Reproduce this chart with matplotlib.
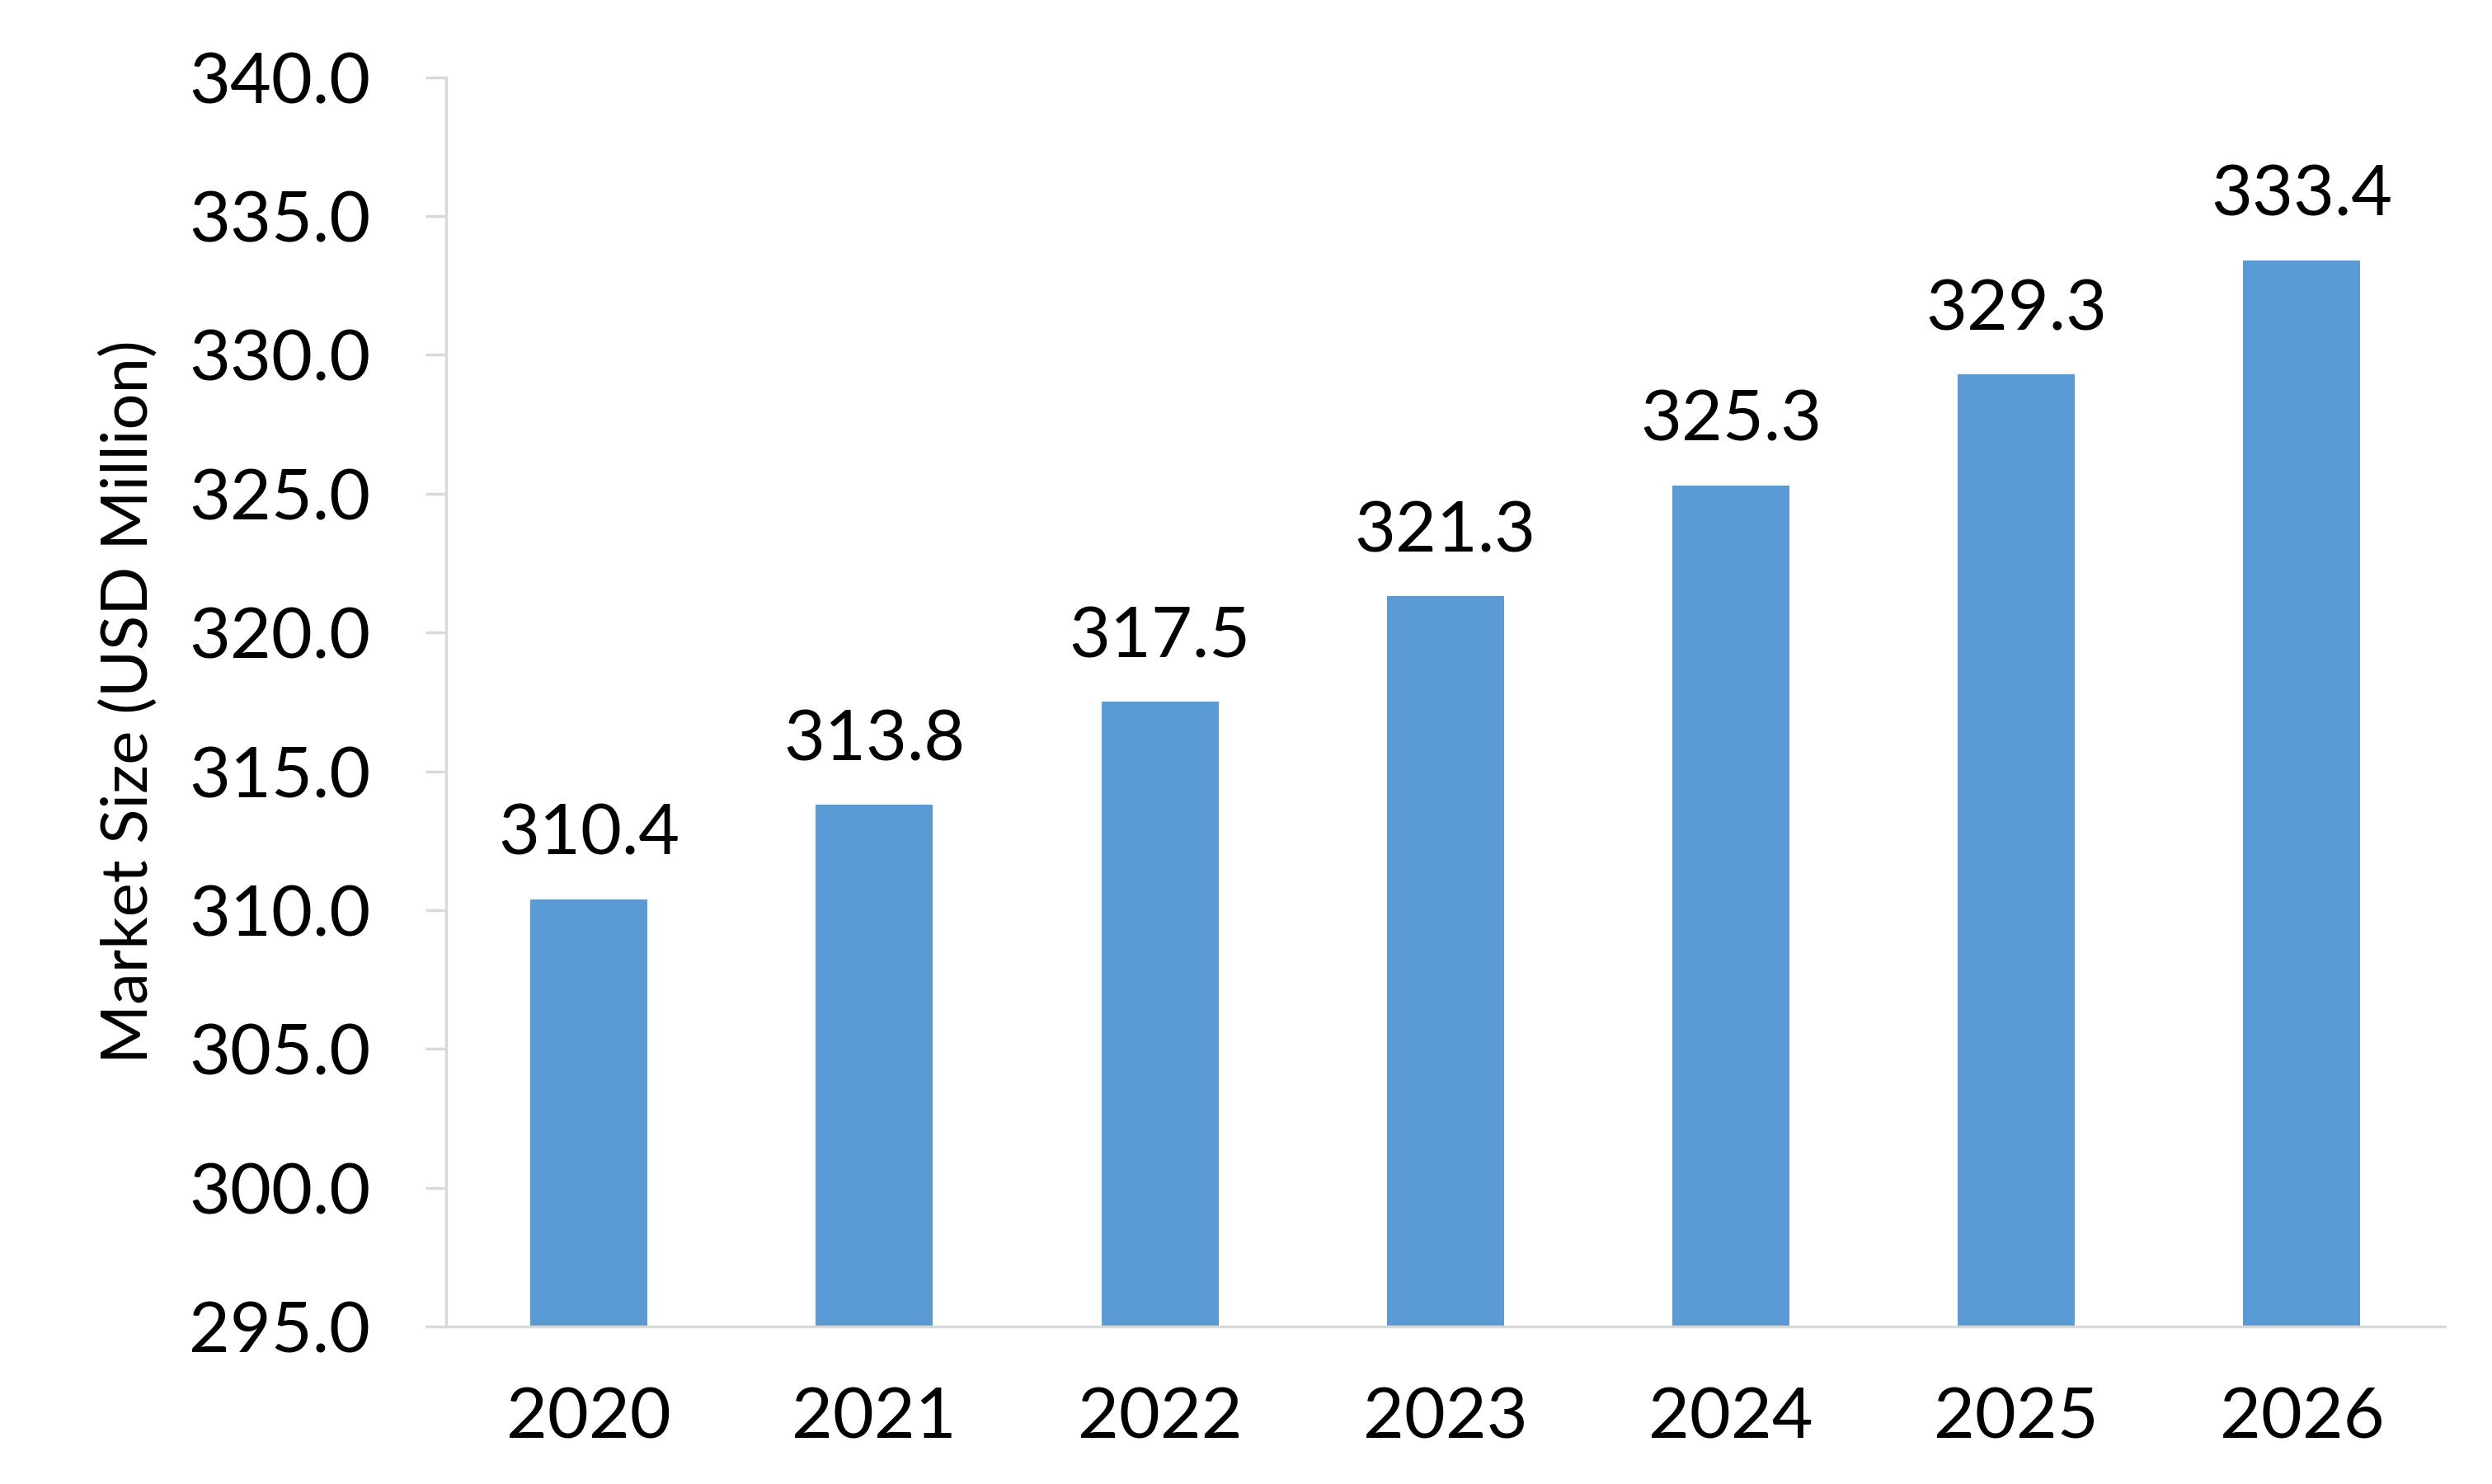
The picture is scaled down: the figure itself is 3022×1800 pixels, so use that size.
import matplotlib
matplotlib.use("Agg")
import matplotlib.pyplot as plt
from matplotlib.ticker import MultipleLocator, FormatStrFormatter

years = ["2020", "2021", "2022", "2023", "2024", "2025", "2026"]
market_size = [310.4, 313.8, 317.5, 321.3, 325.3, 329.3, 333.4]

plt.rcParams['font.family'] = ['Lato', 'DejaVu Sans']

fig = plt.figure(figsize=(30.22, 18), dpi=100)
ax = fig.add_axes([0.179, 0.106, 0.802, 0.842])

x = list(range(len(years)))
bars = ax.bar(x, market_size, width=0.41, color="#5B9BD5", zorder=2)

ax.set_ylim(295, 340)
ax.set_xlim(-0.5, len(years) - 0.5)
ax.yaxis.set_major_locator(MultipleLocator(5))
ax.yaxis.set_major_formatter(FormatStrFormatter("%.1f"))

ax.set_xticks(x)
ax.set_xticklabels(years)

for xi, v in zip(x, market_size):
    ax.annotate(f"{v:.1f}", (xi, v), xytext=(0, 28), textcoords="offset points",
                ha="center", va="bottom", fontsize=62)

for s in ["top", "right"]:
    ax.spines[s].set_visible(False)
for s in ["left", "bottom"]:
    ax.spines[s].set_color("#D9D9D9")
    ax.spines[s].set_linewidth(2.5)
ax.spines["bottom"].set_zorder(3)

ax.tick_params(axis="y", length=18, width=2.5, color="#D9D9D9", pad=48,
               labelsize=62)
ax.tick_params(axis="x", length=0, pad=52, labelsize=62)

ax.set_ylabel("Market Size (USD Million)", fontsize=56, labelpad=26)

fig.savefig("out.png", dpi=100, facecolor="white")
